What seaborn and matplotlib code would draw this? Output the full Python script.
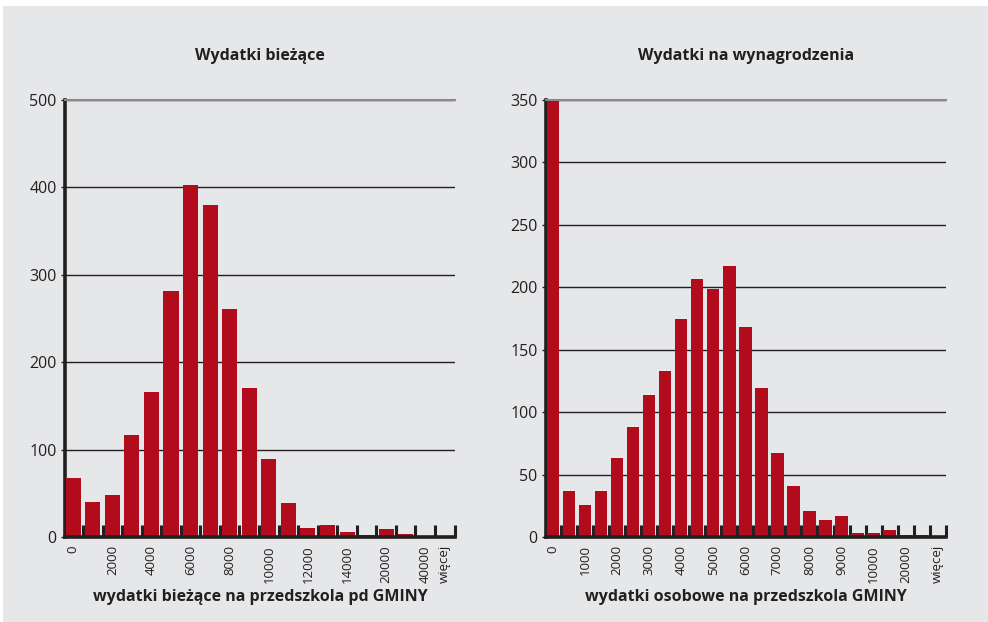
import matplotlib
matplotlib.use("Agg")
import matplotlib.pyplot as plt
from matplotlib.patches import Rectangle
import numpy as np
import seaborn as sns

# dane
left_cats = ["0", "1000", "2000", "3000", "4000", "5000", "6000", "7000", "8000", "9000",
             "10000", "11000", "12000", "13000", "14000", "15000", "20000", "30000", "40000", "więcej"]
left_vals = [67, 40, 48, 117, 166, 281, 403, 380, 261, 171,
             89, 39, 10, 14, 6, 2, 9, 4, 1, 1]
left_shown = ["0", "2000", "4000", "6000", "8000", "10000", "12000", "14000", "20000", "40000", "więcej"]

right_cats = ["0", "500", "1000", "1500", "2000", "2500", "3000", "3500", "4000", "4500",
              "5000", "5500", "6000", "6500", "7000", "7500", "8000", "8500", "9000", "9500",
              "10000", "15000", "20000", "30000", "więcej"]
right_vals = [349, 37, 26, 37, 63, 88, 114, 133, 175, 207,
              199, 217, 168, 119, 67, 41, 21, 14, 17, 3,
              3, 6, 2, 2, 1]
right_shown = ["0", "1000", "2000", "3000", "4000", "5000", "6000", "7000", "8000", "9000",
               "10000", "20000", "więcej"]

BG = "#e6e7e9"
RED = "#b20c1c"
INK = "#231f20"

sns.set_style("white")
plt.rcParams["font.family"] = ["Open Sans", "DejaVu Sans"]

fig = plt.figure(figsize=(9.88, 6.22), dpi=100, facecolor=BG)
fig.patches.append(Rectangle((0, 1 - 6 / 622), 1, 6 / 622, transform=fig.transFigure,
                             facecolor="white", edgecolor="none", zorder=-1))
fig.patches.append(Rectangle((0, 0), 3 / 988, 1, transform=fig.transFigure,
                             facecolor="white", edgecolor="none", zorder=-1))

W, H = 988, 622
ax1 = fig.add_axes([65 / W, 1 - 537 / H, 390 / W, 437 / H])
ax2 = fig.add_axes([546 / W, 1 - 537 / H, 400 / W, 437 / H])


def draw(ax, cats, vals, shown, ymax, ystep, xlim, title, xlabel):
    ax.set_facecolor(BG)
    sns.barplot(x=cats, y=vals, order=cats, color=RED, saturation=1, width=0.77,
                edgecolor="none", ax=ax, zorder=3)
    ax.set_xlim(*xlim)
    ax.set_ylim(0, ymax)
    ax.set_yticks(np.arange(0, ymax + 1, ystep))
    ax.set_axisbelow(True)
    ax.yaxis.grid(True, color=INK, linewidth=1)
    ax.xaxis.grid(False)
    ax.spines["right"].set_visible(False)
    ax.spines["top"].set_color("#8a8a8a")
    ax.spines["top"].set_linewidth(1.5)
    ax.spines["left"].set_color(INK)
    ax.spines["left"].set_linewidth(2.6)
    ax.spines["bottom"].set_color(INK)
    ax.spines["bottom"].set_linewidth(2.6)
    ax.spines["bottom"].set_zorder(5)
    ax.set_xticks(range(len(cats)))
    ax.set_xticklabels([c if c in shown else "" for c in cats], rotation=90,
                       fontsize=9.5, color=INK)
    ax.tick_params(axis="x", which="major", bottom=True, length=0, pad=6)
    ax.set_xticks(np.arange(len(cats)) + 0.5, minor=True)
    ax.tick_params(axis="x", which="minor", bottom=True, top=False, direction="in",
                   length=9, width=2.2, color=INK)
    ax.tick_params(axis="y", left=True, length=3, width=1, color=INK, labelsize=11.5,
                   labelcolor=INK, pad=3)
    ax.set_title(title, fontsize=11.5, fontweight="bold", color=INK, pad=29)
    ax.set_xlabel(xlabel, fontsize=11.5, fontweight="bold", color=INK, labelpad=4)
    ax.set_ylabel("")


draw(ax1, left_cats, left_vals, left_shown, 500, 100, (-0.42, 19.52),
     "Wydatki bieżące", "wydatki bieżące na przedszkola pd GMINY")
draw(ax2, right_cats, right_vals, right_shown, 350, 50, (-0.44, 24.52),
     "Wydatki na wynagrodzenia", "wydatki osobowe na przedszkola GMINY")

fig.savefig("out.png", dpi=100, facecolor=fig.get_facecolor())
